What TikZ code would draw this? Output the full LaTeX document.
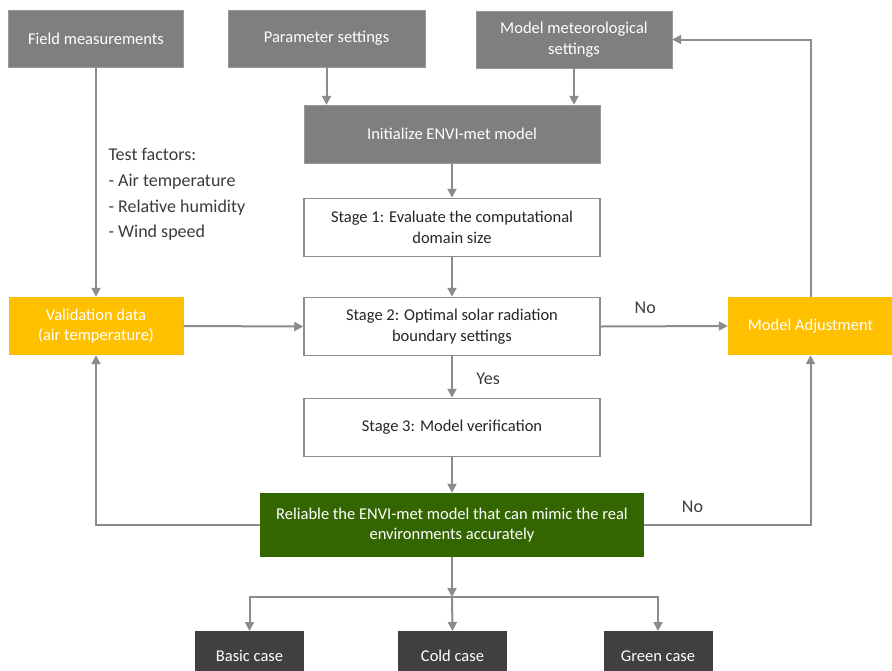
\documentclass[tikz,border=0pt]{standalone}
\usepackage{fontspec}
\setmainfont{Carlito}
\usetikzlibrary{arrows.meta}
\definecolor{boxgray}{HTML}{7F7F7F}
\definecolor{darkbox}{HTML}{404040}
\definecolor{ambr}{HTML}{FFC000}
\definecolor{leaf}{HTML}{336600}
\definecolor{ink}{HTML}{262626}
\definecolor{linegray}{HTML}{8C8C8C}
\tikzset{
  base/.style={rectangle, inner sep=0pt, align=center, font=\fontsize{16.5}{20.5}\selectfont},
  graybox/.style={base, fill=boxgray, draw=boxgray!80, text=white},
  whitebox/.style={base, fill=white, draw=linegray, line width=1.5pt, text=ink},
  ambox/.style={base, fill=ambr, text=white},
  leafbox/.style={base, fill=leaf, text=white},
  darkcase/.style={base, fill=darkbox, text=white, minimum width=109pt, minimum height=50pt},
  conn/.style={draw=linegray, line width=2pt, -{Triangle[length=9pt,width=9pt]}},
  lbl/.style={font=\fontsize{18}{22}\selectfont, text=ink!90}
}
\begin{document}
\begin{tikzpicture}[x=1pt,y=-1pt]
\useasboundingbox (0,0) rectangle (892,670);
\fill[white] (0,0) rectangle (892,670);
\begin{scope}
\clip (0,0) rectangle (892,670);
\node[graybox, minimum width=175pt, minimum height=57pt] (field) at (96,38.5) {Field measurements};
\node[graybox, minimum width=197pt, minimum height=57pt] (param) at (326.5,38.5) {Parameter settings};
\node[graybox, minimum width=196pt, minimum height=57pt] (meteo) at (574,39.5) {Model meteorological\\settings};
\node[graybox, minimum width=296pt, minimum height=58pt] (init) at (452,134) {Initialize ENVI-met model};
\node[whitebox, minimum width=296pt, minimum height=58pt] (s1) at (452,227.5) {Stage 1: Evaluate the computational\\domain size};
\node[whitebox, minimum width=296pt, minimum height=58pt] (s2) at (452,326.5) {Stage 2: Optimal solar radiation\\boundary settings};
\node[whitebox, minimum width=296pt, minimum height=58pt] (s3) at (452,427.5) {Stage 3: Model verification};
\node[ambox, minimum width=175pt, minimum height=58pt] (valid) at (96,326) {Validation data\\(air temperature)};
\node[ambox, minimum width=165pt, minimum height=58pt] (adj) at (810.5,326) {Model Adjustment};
\node[leafbox, minimum width=384pt, minimum height=64pt] (rel) at (452,525) {Reliable the ENVI-met model that can mimic the real\\environments accurately};
\node[darkcase, anchor=north] (basic) at (249.5,631) {Basic case};
\node[darkcase, anchor=north] (cold) at (452.5,631) {Cold case};
\node[darkcase, anchor=north] (green) at (658,631) {Green case};
\end{scope}

\node[lbl, anchor=north west, align=left, font=\fontsize{18}{25.7}\selectfont] (tf) at (105,145) {Test factors:\\- Air temperature\\- Relative humidity\\- Wind speed};

\draw[conn] (field.south) -- (valid.north);
\draw[conn] (param.south) -- (param.south |- init.north);
\draw[conn] (meteo.south) -- (meteo.south |- init.north);
\draw[conn] (init.south) -- (s1.north);
\draw[conn] (s1.south) -- (s2.north);
\draw[conn] (s2.south) -- node[lbl, right=20pt, pos=0.55] (yes) {Yes} (s3.north);
\draw[conn] (s3.south) -- (rel.north);
\draw[conn] (valid.east) -- (s2.west);
\draw[conn] (s2.east) -- node[lbl, above=8pt, pos=0.35] (no1) {No} (adj.west);
\draw[conn] (adj.north) |- (meteo.east);
\draw[conn] (rel.west) -| (valid.south);
\draw[conn] (rel.east) -| node[lbl, pos=0.145, above=8pt] (no2) {No} (adj.south);
\coordinate (split) at (452,597);
\draw[conn] (rel.south) -- (split);
\draw[conn] (split) -| (basic.north);
\draw[conn] (split) -| (green.north);
\draw[conn] (split) -- (cold.north);
\end{tikzpicture}
\end{document}
